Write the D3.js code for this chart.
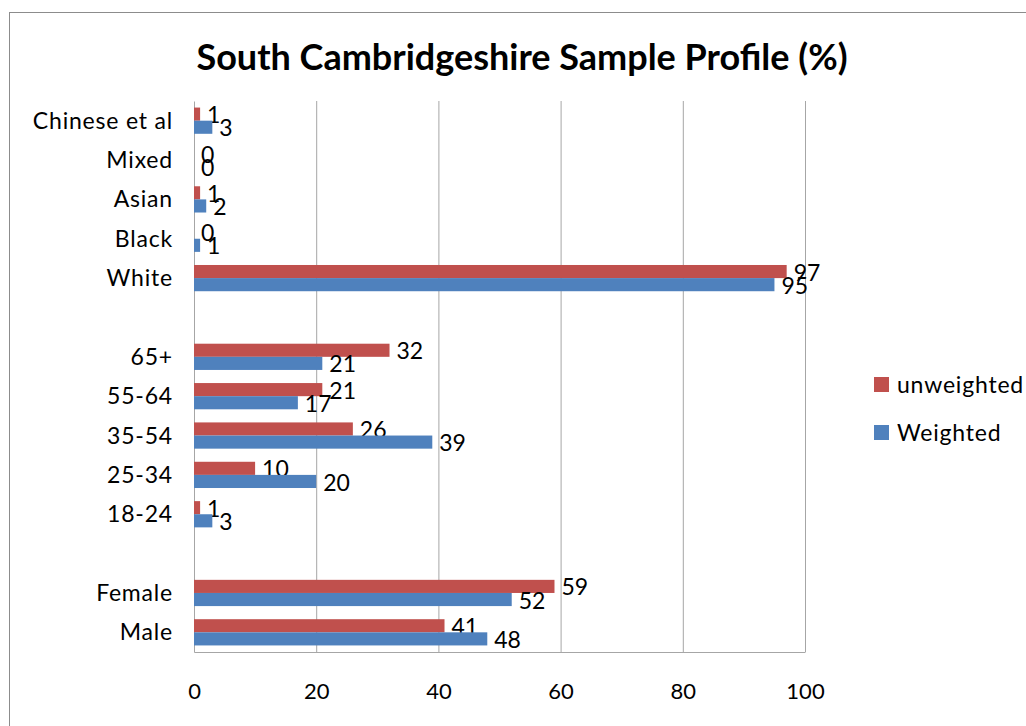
<!DOCTYPE html>
<html>
<head>
<meta charset="utf-8">
<script src="https://cdn.jsdelivr.net/npm/d3@7"></script>
<style>
  body { margin: 0; background: #fff; }
  text { font-family: Lato, "Open Sans", sans-serif; fill: #000; }
</style>
</head>
<body>
<div id="chart"></div>
<script>
// categories bottom-to-top, blanks are spacer rows
const categories = ['Male', 'Female', '', '18-24', '25-34', '35-54', '55-64', '65+', '', 'White', 'Black', 'Asian', 'Mixed', 'Chinese et al'];
const unweighted = [41, 59, null, 1, 10, 26, 21, 32, null, 97, 0, 1, 0, 1];
const weighted = [48, 52, null, 3, 20, 39, 17, 21, null, 95, 1, 2, 0, 3];
const xTicks = [0, 20, 40, 60, 80, 100];
const seriesNames = ['unweighted', 'Weighted'];
const colors = ['#C0504D', '#4F81BD'];

const W = 1026, H = 726;
const margin = { top: 101, right: 221, bottom: 74, left: 194 };
const width = W - margin.left - margin.right;
const height = H - margin.top - margin.bottom;

const svg = d3.select('#chart').append('svg')
  .attr('width', W)
  .attr('height', H);

// outer chart border
svg.append('rect')
  .attr('x', 9.5).attr('y', 12.5)
  .attr('width', W + 20).attr('height', H + 20)
  .attr('fill', 'none')
  .attr('stroke', '#8c8c8c');

const g = svg.append('g')
  .attr('transform', `translate(${margin.left},${margin.top})`);

const x = d3.scaleLinear().domain([0, 100]).range([0, width]);

// top row is last category
const y = d3.scaleBand()
  .domain(d3.range(categories.length).reverse())
  .range([0, height]);

const inner = d3.scaleBand()
  .domain([0, 1])
  .range([0, y.bandwidth()])
  .paddingOuter(0.5)
  .paddingInner(0);

// gridlines
g.append('g')
  .attr('class', 'grid')
  .attr('transform', `translate(0,${height})`)
  .call(d3.axisBottom(x).tickValues(xTicks.slice(1)).tickSize(-height).tickFormat(''))
  .call(s => s.select('.domain').remove())
  .selectAll('line').attr('stroke', '#a6a6a6');

// x axis labels
const xAxis = g.append('g')
  .attr('transform', `translate(0,${height})`)
  .call(d3.axisBottom(x).tickValues(xTicks).tickSize(0).tickPadding(31));
xAxis.select('.domain').attr('stroke', '#a6a6a6');
xAxis.selectAll('text').style('font-size', '22px').attr('fill', '#000');

// y axis
const yAxis = g.append('g')
  .call(d3.axisLeft(y).tickSize(0).tickPadding(21).tickFormat(i => categories[i]));
yAxis.select('.domain').attr('stroke', '#a6a6a6');
yAxis.selectAll('text')
  .style('font-size', '23px')
  .style('letter-spacing', '0.8px')
  .attr('fill', '#000')
  .attr('dy', '0.35em');

const series = [unweighted, weighted];
series.forEach((vals, s) => {
  const rows = vals.map((v, i) => ({ v, i })).filter(d => d.v !== null);
  g.selectAll('.bar-' + s)
    .data(rows)
    .enter().append('rect')
    .attr('class', 'bar-' + s)
    .attr('x', 0)
    .attr('y', d => y(d.i) + inner(s))
    .attr('width', d => x(d.v))
    .attr('height', inner.bandwidth())
    .attr('fill', colors[s]);

  // value labels just past the bar end
  g.selectAll('.lbl-' + s)
    .data(rows)
    .enter().append('text')
    .attr('class', 'lbl-' + s)
    .attr('x', d => x(d.v) + 7)
    .attr('y', d => y(d.i) + inner(s) + inner.bandwidth() / 2 + 1)
    .attr('dy', '0.35em')
    .style('font-size', '23px')
    .text(d => d.v);
});

// title
svg.append('text')
  .attr('x', 522)
  .attr('y', 70)
  .attr('text-anchor', 'middle')
  .style('font-size', '36px')
  .style('font-weight', 'bold')
  .text('South Cambridgeshire Sample Profile (%)');

// legend
const legend = svg.append('g').attr('transform', 'translate(874,377)');
seriesNames.forEach((name, i) => {
  const row = legend.append('g').attr('transform', `translate(0,${i * 48})`);
  row.append('rect').attr('width', 15).attr('height', 15).attr('fill', colors[i]);
  row.append('text')
    .attr('x', 23).attr('y', 8).attr('dy', '0.35em')
    .style('font-size', '23px')
    .style('letter-spacing', '0.8px')
    .text(name);
});
</script>
</body>
</html>
